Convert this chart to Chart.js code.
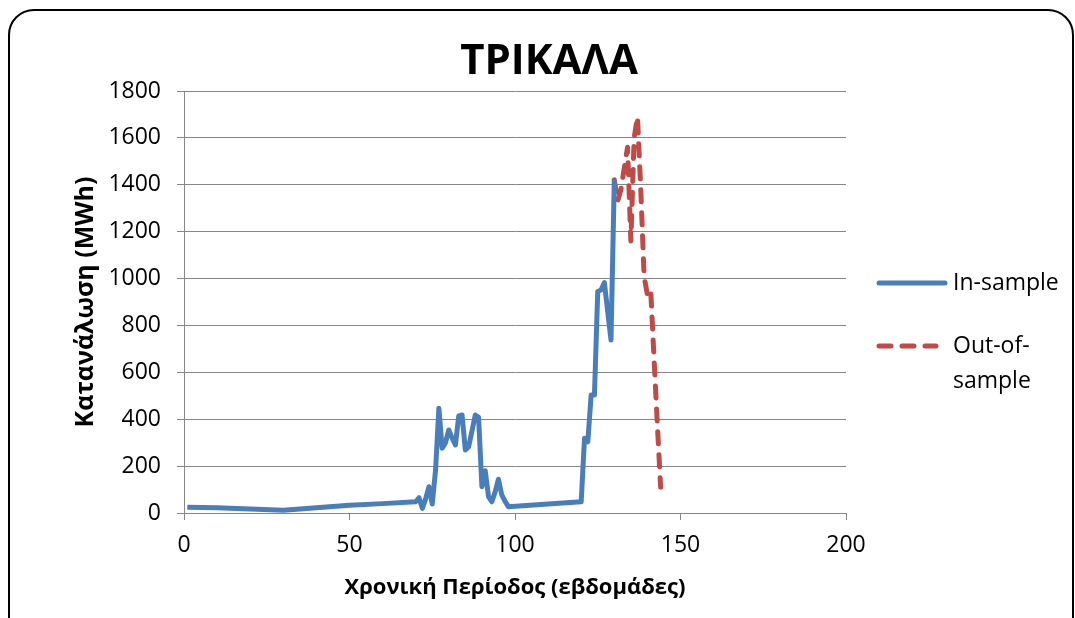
<!DOCTYPE html>
<html>
<head>
<meta charset="utf-8">
<title>ΤΡΙΚΑΛΑ</title>
<script src="https://cdn.jsdelivr.net/npm/chart.js@4.4.0/dist/chart.umd.min.js"></script>
<style>
    html, body { margin: 0; padding: 0; background: #fff; overflow: hidden; }
    .frame {
        position: absolute; left: 8px; top: 9px;
        width: 1062px; height: 660px;
        border: 2px solid #000; border-radius: 26px;
    }
    .wrap { position: absolute; left: 0; top: 0; width: 1075px; height: 618px; }
</style>
</head>
<body>
<div class="frame"></div>
<div class="wrap"><canvas id="trikalaChart" width="1075" height="618"></canvas></div>
<script>
// weekly consumption (MWh)
const inWeeks = [1, 10, 20, 30, 40, 50, 60, 70, 71, 72, 73, 74, 75, 76, 77, 78, 79, 80, 81, 82, 83, 84, 85, 86, 87, 88, 89, 90, 91, 92, 93, 94, 95, 96, 97, 98, 110, 120, 121, 122, 123, 124, 125, 126, 127, 128, 129, 130];
const inValues = [25, 22, 17, 12, 22, 33, 40, 48, 65, 20, 60, 112, 38, 183, 447, 276, 300, 354, 320, 290, 414, 418, 269, 283, 350, 418, 408, 112, 180, 70, 48, 90, 144, 77, 50, 27, 38, 48, 319, 304, 503, 503, 945, 951, 983, 860, 738, 1421];

const outWeeks = [130, 131, 132, 133, 134, 135, 136, 137, 138, 139, 140, 141, 142, 143, 144];
const outValues = [1421, 1330, 1380, 1470, 1560, 1160, 1600, 1690, 1380, 1010, 930, 950, 660, 380, 110];

const seriesNames = ['In-sample', 'Out-of-sample'];
const legendText = [['In-sample'], ['Out-of-', 'sample']];
const chartTitle = 'ΤΡΙΚΑΛΑ';
const xTitle = 'Χρονική Περίοδος (εβδομάδες)';
const yTitle = 'Κατανάλωση (MWh)';

const FONT = "'Open Sans', 'DejaVu Sans', sans-serif";
const GRID = '#868686';

function toPoints(xs, ys) {
    return xs.map((x, i) => ({ x: x, y: ys[i] }));
}

// title and the wrapped legend on the right are drawn by hand
const chartDecor = {
    id: 'chartDecor',
    afterDraw(chart) {
        const ctx = chart.ctx;
        ctx.save();
        ctx.fillStyle = '#000';
        ctx.textAlign = 'center';
        ctx.textBaseline = 'middle';
        ctx.font = 'bold 42px ' + FONT;
        ctx.fillText(chartTitle, 549, 62);

        const rowY = [283, 346];
        const lineEnd = [945, 936];
        chart.data.datasets.forEach((ds, i) => {
            ctx.beginPath();
            ctx.strokeStyle = ds.borderColor;
            ctx.lineWidth = ds.borderWidth;
            ctx.lineCap = 'round';
            ctx.setLineDash(ds.borderDash || []);
            ctx.moveTo(879, rowY[i]);
            ctx.lineTo(lineEnd[i], rowY[i]);
            ctx.stroke();
            ctx.setLineDash([]);
            ctx.fillStyle = '#000';
            ctx.textAlign = 'left';
            ctx.font = '23px ' + FONT;
            legendText[i].forEach((line, j) => ctx.fillText(line, 953, rowY[i] + j * 35));
        });
        ctx.restore();
    }
};

const ctx = document.getElementById('trikalaChart').getContext('2d');
const myChart = new Chart(ctx, {
    type: 'line',
    data: {
        datasets: [{
            label: seriesNames[0],
            data: toPoints(inWeeks, inValues),
            borderColor: '#4A7EBB',
            borderWidth: 5,
            borderJoinStyle: 'round',
            pointRadius: 0,
            fill: false
        }, {
            label: seriesNames[1],
            data: toPoints(outWeeks, outValues),
            borderColor: '#BE4B48',
            borderWidth: 5,
            borderDash: [12, 11],
            borderCapStyle: 'round',
            borderJoinStyle: 'round',
            pointRadius: 0,
            fill: false
        }]
    },
    options: {
        responsive: false,
        animation: false,
        layout: { padding: { left: 0, top: 91, right: 229, bottom: 0 } },
        elements: { line: { tension: 0 } },
        plugins: {
            legend: { display: false },
            tooltip: { enabled: false },
            title: { display: false }
        },
        scales: {
            x: {
                type: 'linear',
                min: 0,
                max: 200,
                ticks: {
                    stepSize: 50,
                    color: '#000',
                    padding: 12,
                    maxRotation: 0,
                    font: { family: FONT, size: 23 },
                    callback: function (value) { return String(value); }
                },
                grid: {
                    drawOnChartArea: false,
                    drawTicks: true,
                    tickLength: 7,
                    color: GRID
                },
                border: { color: GRID, width: 1 },
                title: {
                    display: true,
                    text: xTitle,
                    color: '#000',
                    font: { family: FONT, size: 22, weight: 'bold' },
                    padding: { top: 0, bottom: 17 }
                },
                afterFit: function (scale) { scale.height = 105; }
            },
            y: {
                min: 0,
                max: 1800,
                ticks: {
                    stepSize: 200,
                    color: '#000',
                    padding: 16,
                    font: { family: FONT, size: 23 },
                    callback: function (value) { return String(value); }
                },
                grid: {
                    drawTicks: true,
                    tickLength: 7,
                    color: GRID,
                    lineWidth: 1
                },
                border: { color: GRID, width: 1 },
                title: {
                    display: true,
                    text: yTitle,
                    color: '#000',
                    font: { family: FONT, size: 25, weight: 'bold' },
                    padding: { top: 71, bottom: 0 }
                },
                afterFit: function (scale) { scale.width = 184; }
            }
        }
    },
    plugins: [chartDecor]
});
</script>
</body>
</html>
